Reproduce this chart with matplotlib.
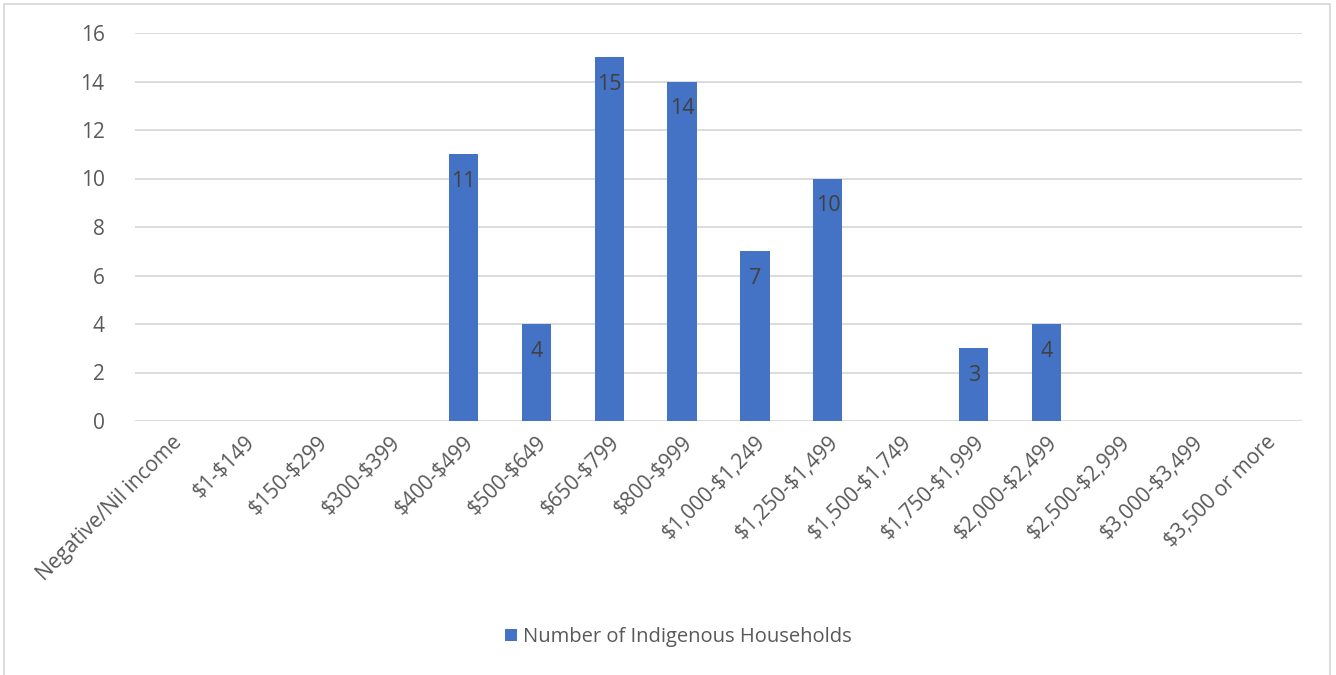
import matplotlib.pyplot as plt
import numpy as np
from matplotlib.patches import Rectangle

categories = ["Negative/Nil income", "$1-$149", "$150-$299", "$300-$399", "$400-$499",
              "$500-$649", "$650-$799", "$800-$999", "$1,000-$1,249", "$1,250-$1,499",
              "$1,500-$1,749", "$1,750-$1,999", "$2,000-$2,499", "$2,500-$2,999",
              "$3,000-$3,499", "$3,500 or more"]
households = [0, 0, 0, 0, 11, 4, 15, 14, 7, 10, 0, 3, 4, 0, 0, 0]
series_name = "Number of Indigenous Households"
yticks = [0, 2, 4, 6, 8, 10, 12, 14, 16]

plt.rcParams["font.family"] = ["Open Sans", "DejaVu Sans"]
plt.rcParams["text.parse_math"] = False
TEXT = "#595959"
BAR = "#4472C4"

fig = plt.figure(figsize=(13.36, 6.75), dpi=100)
W, H = 1336, 675
ax = fig.add_axes([135 / W, 1 - 421 / H, (1302 - 135) / W, (421 - 33) / H])

x = np.arange(len(categories))
bars = ax.bar(x, households, width=0.4, color=BAR, label=series_name, zorder=3)

# value labels just inside the top of each bar
for xi, v in zip(x, households):
    if v > 0:
        ax.annotate(str(v), (xi, v), xytext=(0, -12), textcoords="offset points",
                    ha="center", va="top", fontsize=15.5, color="#404040", zorder=4)

ax.set_xlim(-0.5, len(categories) - 0.5)
ax.set_ylim(0, 16)
ax.set_yticks(yticks)
ax.set_xticks(x)
ax.set_xticklabels(categories, rotation=45, ha="right", rotation_mode="anchor")
ax.tick_params(axis="both", length=0, labelsize=15, colors=TEXT)
ax.tick_params(axis="y", pad=22)
ax.tick_params(axis="x", pad=8)
ax.grid(axis="y", color="#D9D9D9", linewidth=1.3, zorder=0)
for s in ax.spines.values():
    s.set_visible(False)

fig.legend(handles=[bars], labels=[series_name], loc="center",
           bbox_to_anchor=(678 / W, 1 - 637 / H), frameon=False, fontsize=14.5,
           labelcolor=TEXT, handlelength=0.6, handleheight=0.6, handletextpad=0.3)

# chart border
fig.add_artist(Rectangle((4 / W, -0.05), (1330 - 4) / W, 1.05 - 4 / H,
                         transform=fig.transFigure, fill=False,
                         edgecolor="#D9D9D9", linewidth=1.3))

fig.savefig("out.png", dpi=100)
